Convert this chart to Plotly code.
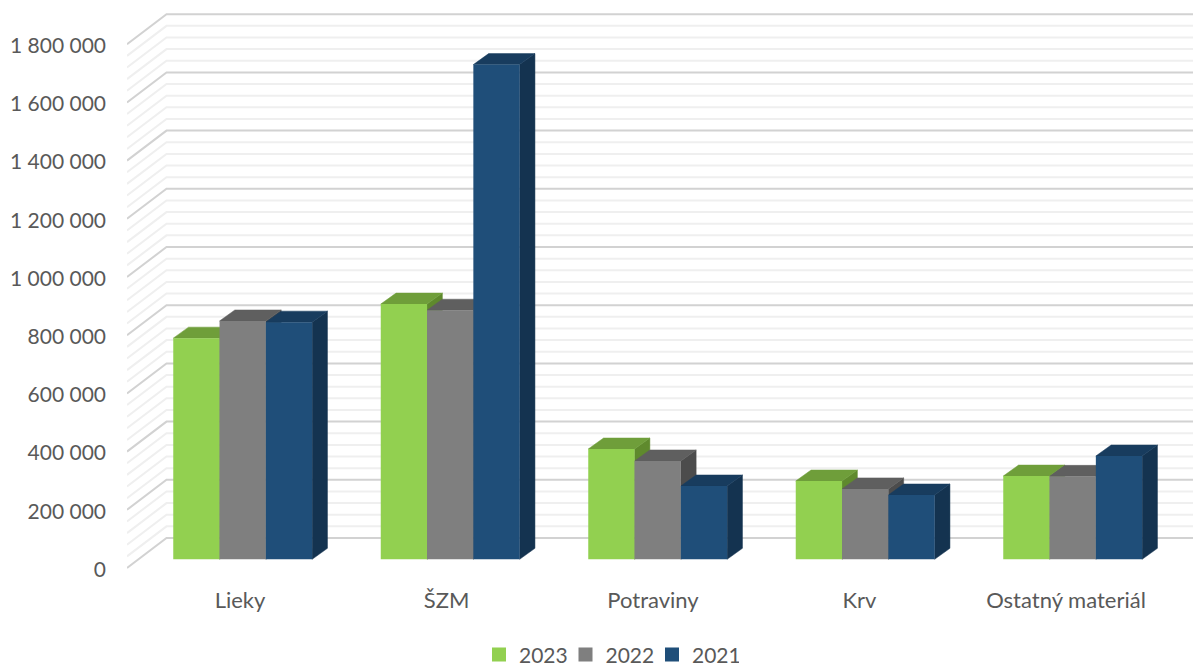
import plotly.graph_objects as go

categories = ["Lieky", "ŠZM", "Potraviny", "Krv", "Ostatný materiál"]
years = ["2023", "2022", "2021"]
v2023 = [760000, 877000, 379000, 269000, 286000]
v2022 = [819000, 856000, 338000, 242000, 285000]
v2021 = [815000, 1700000, 252000, 221000, 355000]
y_ticks = [0, 200000, 400000, 600000, 800000, 1000000, 1200000, 1400000, 1600000, 1800000]
y_tick_text = ["0", "200 000", "400 000", "600 000", "800 000", "1 000 000", "1 200 000", "1 400 000", "1 600 000", "1 800 000"]

front_colors = ["#92D050", "#7F7F7F", "#1F4E79"]
top_colors = ["#6F9E3A", "#5F5F5F", "#183C5E"]
side_colors = ["#5F8A2D", "#4C4C4C", "#143350"]

W, H = 1193, 667
ML, MR, MT, MB = 127, 0, 0, 89
PX_PER_UNIT_Y = 58.2 / 200000
PX_PER_CAT = 207.5
CAT0_PX = 242.7
X0 = -(CAT0_PX - ML) / PX_PER_CAT
X1 = X0 + (W - ML - MR) / PX_PER_CAT
Y0 = -10 / PX_PER_UNIT_Y
Y1 = Y0 + (H - MT - MB) / PX_PER_UNIT_Y

def dx(px):
    return px / PX_PER_CAT

def dy(px):
    return px / PX_PER_UNIT_Y

bar_w = dx(46.3)
bar_base = dy(8.7)
bar_dx, bar_dy = dx(15.3), dy(11)
wall_dx, wall_dy = dx(39.5), dy(30)

fig = go.Figure()

# walls: grid lines
minor_step = 40000
for major in (False, True):
    xs, ys = [], []
    v = 0
    while v <= 1800000:
        if (v % 200000 == 0) == major:
            xs += [X0, X0 + wall_dx, X1, None]
            ys += [v, v + wall_dy, v + wall_dy, None]
        v += minor_step
    fig.add_trace(go.Scatter(x=xs, y=ys, mode="lines", hoverinfo="skip", showlegend=False,
                             line=dict(color="#D2D2D2" if major else "#EFEFEF", width=2)))

# box faces, left to right
series = [v2023, v2022, v2021]
for s, vals in enumerate(series):
    off = (s - 1) * bar_w
    for i, v in enumerate(vals):
        xl = i + off - bar_w / 2
        xr = xl + bar_w
        top = bar_base + v
        fig.add_trace(go.Scatter(
            x=[xr, xr + bar_dx, xr + bar_dx, xr, xr],
            y=[bar_base, bar_base + bar_dy, top + bar_dy, top, bar_base],
            mode="lines", fill="toself", fillcolor=side_colors[s],
            line=dict(width=0.5, color=side_colors[s]),
            hoverinfo="skip", showlegend=False))
        fig.add_trace(go.Scatter(
            x=[xl, xl + bar_dx, xr + bar_dx, xr, xl],
            y=[top, top + bar_dy, top + bar_dy, top, top],
            mode="lines", fill="toself", fillcolor=top_colors[s],
            line=dict(width=0.5, color=top_colors[s]),
            hoverinfo="skip", showlegend=False))

# front faces on an overlaid pair of axes so they sit above the depth faces
for s, vals in enumerate(series):
    off = (s - 1) * bar_w
    fig.add_trace(go.Bar(
        x=[i + off for i in range(len(categories))], y=vals, base=bar_base, width=bar_w,
        marker=dict(color=front_colors[s], line=dict(width=0)), showlegend=False,
        name=years[s], xaxis="x2", yaxis="y2"))

# legend swatches
for s, year in enumerate(years):
    fig.add_trace(go.Scatter(x=[None], y=[None], mode="markers", name=year,
                             marker=dict(symbol="square", size=14, color=front_colors[s])))

label_pos = [(240 + 206.5 * i - CAT0_PX) / PX_PER_CAT for i in range(len(categories))]
font_y = dict(family="Lato", size=21, color="#595959")
font_x = dict(family="Lato", size=22, color="#595959")

fig.update_layout(
    width=W, height=H, autosize=False,
    margin=dict(l=ML, r=MR, t=MT, b=MB, pad=0),
    paper_bgcolor="white", plot_bgcolor="white",
    barmode="overlay", font=font_y,
    xaxis=dict(range=[X0, X1], showgrid=False, zeroline=False, showline=False,
               tickvals=label_pos, ticktext=categories, ticks="", ticklabelstandoff=7,
               tickfont=font_x),
    yaxis=dict(range=[Y0, Y1], showgrid=False, zeroline=False, showline=False,
               tickvals=[t - dy(1.5) for t in y_ticks], ticktext=y_tick_text, ticks="",
               ticklabelstandoff=20, tickfont=font_y),
    xaxis2=dict(range=[X0, X1], overlaying="x", visible=False),
    yaxis2=dict(range=[Y0, Y1], overlaying="y", visible=False),
    legend=dict(orientation="h", x=(479 - ML) / (W - ML), xref="paper", xanchor="left",
                yref="container", y=0.049, yanchor="top", font=font_y, itemsizing="trace",
                entrywidth=41.5, entrywidthmode="pixels",
                traceorder="normal", bgcolor="rgba(0,0,0,0)"),
)

fig.write_html("out.html", config=dict(displayModeBar=False),
               post_script="document.body.style.margin='0';")
